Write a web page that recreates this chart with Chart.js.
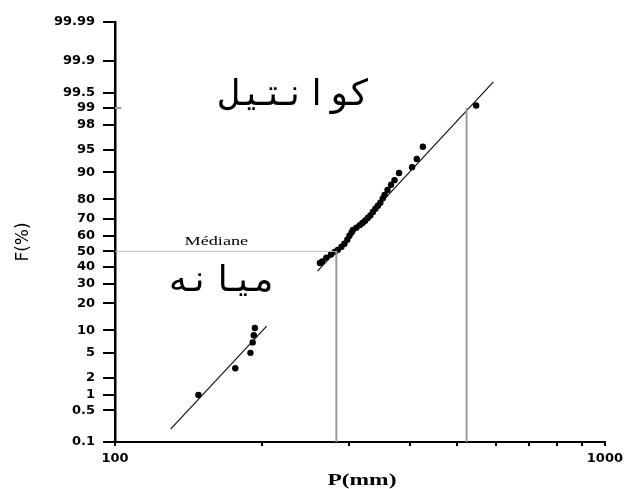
<!DOCTYPE html>
<html>
<head>
<meta charset="utf-8">
<script src="https://cdn.jsdelivr.net/npm/chart.js@4"></script>
<style>
  body { margin: 0; background: #fff; }
  canvas { display: block; }
</style>
</head>
<body>
<canvas id="probChart" width="628" height="489"></canvas>
<script>
// data: P in mm, F in %
const upperP = [262, 265, 270, 276, 281, 285, 290, 294, 298, 301, 304, 306, 311, 316, 320, 324, 328, 332, 336, 340, 344, 348, 352, 355, 360, 366, 372, 380, 404, 413, 425, 546];
const upperF = [42.5, 43.5, 46, 48, 49.6, 51, 53, 55, 57.5, 60, 62, 63.6, 65, 66.5, 67.7, 69, 70.6, 72, 73.9, 75.5, 77, 78.5, 80.5, 82, 84, 86, 87.6, 89.8, 91.4, 93.3, 95.5, 99.1];
const lowerP = [148, 176, 189, 191, 192, 193];
const lowerF = [1, 2.9, 5, 7, 8.7, 10.7];

const fitLowerP = [130, 204];
const fitLowerF = [0.2, 11.3];
const fitUpperP = [259, 592];
const fitUpperF = [37.5, 99.7];

const medianP = 283;
const quantileP = 522;

const yTicks = [0.1, 0.5, 1, 2, 5, 10, 20, 30, 40, 50, 60, 70, 80, 90, 95, 98, 99, 99.5, 99.9, 99.99];
const yLabels = ['0.1', '0.5', '1', '2', '5', '10', '20', '30', '40', '50', '60', '70', '80', '90', '95', '98', '99', '99.5', '99.9', '99.99'];
const xTicks = [100, 200, 300, 400, 500, 600, 700, 800, 900, 1000];
const xLabels = ['100', '', '', '', '', '', '', '', '', '1000'];

// inverse normal cdf (Acklam), used for the probability axis
function probit(p) {
  const a = [-39.69683028665376, 220.9460984245205, -275.9285104469687, 138.357751867269, -30.66479806614716, 2.506628277459239];
  const b = [-54.47609879822406, 161.5858368580409, -155.6989798598866, 66.80131188771972, -13.28068155288572];
  const c = [-0.007784894002430293, -0.3223964580411365, -2.400758277161838, -2.549732539343734, 4.374664141464968, 2.938163982698783];
  const d = [0.007784695709041462, 0.3224671290700398, 2.445134137142996, 3.754408661907416];
  let q, r;
  if (p < 0.02425) {
    q = Math.sqrt(-2 * Math.log(p));
    return (((((c[0]*q+c[1])*q+c[2])*q+c[3])*q+c[4])*q+c[5]) / ((((d[0]*q+d[1])*q+d[2])*q+d[3])*q+1);
  }
  if (p <= 1 - 0.02425) {
    q = p - 0.5; r = q * q;
    return (((((a[0]*r+a[1])*r+a[2])*r+a[3])*r+a[4])*r+a[5])*q / (((((b[0]*r+b[1])*r+b[2])*r+b[3])*r+b[4])*r+1);
  }
  q = Math.sqrt(-2 * Math.log(1 - p));
  return -(((((c[0]*q+c[1])*q+c[2])*q+c[3])*q+c[4])*q+c[5]) / ((((d[0]*q+d[1])*q+d[2])*q+d[3])*q+1);
}
const z = f => probit(f / 100);
const pts = (ps, fs) => ps.map((p, i) => ({ x: p, y: z(fs[i]) }));

const refStyle = { borderColor: '#9a9a9a', borderWidth: 2, pointRadius: 0, showLine: true, fill: false };

const textPlugin = {
  id: 'texts',
  afterDraw(chart) {
    const ctx = chart.ctx;
    const xs = chart.scales.x, ys = chart.scales.y;
    ctx.save();
    ctx.fillStyle = '#000';
    ctx.textAlign = 'center';

    ctx.font = '36px "DejaVu Sans Mono", "DejaVu Sans"';
    ctx.fillText('کوانتیل', xs.getPixelForValue(233), ys.getPixelForValue(z(99)) - 3);
    ctx.fillText('میانه', xs.getPixelForValue(165), ys.getPixelForValue(z(26)));

    ctx.save();
    ctx.translate(xs.getPixelForValue(161), ys.getPixelForValue(z(50)) - 6);
    ctx.scale(1.35, 1);
    ctx.font = '13.5px "Liberation Serif"';
    ctx.fillText('Médiane', 0, 0);
    ctx.restore();

    ctx.save();
    ctx.translate((xs.left + xs.right) / 2 + 2, chart.height - 4);
    ctx.scale(1.38, 1);
    ctx.font = 'bold 17px "Liberation Serif"';
    ctx.fillText('P(mm)', 0, 0);
    ctx.restore();

    ctx.save();
    ctx.translate(28, (ys.top + ys.bottom) / 2 + 10);
    ctx.rotate(-Math.PI / 2);
    ctx.font = '17px "DejaVu Sans"';
    ctx.fillText('F(%)', 0, 0);
    ctx.restore();

    ctx.restore();
  }
};

new Chart(document.getElementById('probChart'), {
  type: 'scatter',
  data: {
    datasets: [
      Object.assign({ data: pts([100, 284], [50, 50]) }, refStyle, { borderColor: '#b8b8b8', borderWidth: 1 }),
      Object.assign({ data: pts([100, 103], [99, 99]) }, refStyle),
      Object.assign({ data: pts([medianP, medianP], [50, 0.1]) }, refStyle),
      Object.assign({ data: pts([quantileP, quantileP], [99, 0.1]) }, refStyle),
      { data: pts(fitLowerP, fitLowerF), showLine: true, borderColor: '#111', borderWidth: 1.2, pointRadius: 0 },
      { data: pts(fitUpperP, fitUpperF), showLine: true, borderColor: '#111', borderWidth: 1.2, pointRadius: 0 },
      { data: pts(lowerP, lowerF), pointRadius: 3.2, pointBackgroundColor: '#000', pointBorderWidth: 0 },
      { data: pts(upperP, upperF), pointRadius: 3.2, pointBackgroundColor: '#000', pointBorderWidth: 0 }
    ]
  },
  options: {
    responsive: false,
    animation: false,
    events: [],
    layout: { padding: { left: 0, right: 23, top: 22, bottom: 0 } },
    plugins: { legend: { display: false }, tooltip: { enabled: false } },
    scales: {
      x: {
        type: 'logarithmic',
        min: 100,
        max: 1000,
        afterBuildTicks: s => { s.ticks = xTicks.map(v => ({ value: v })); },
        afterFit: s => { s.height = 47; },
        border: { color: '#000', width: 2 },
        grid: { drawOnChartArea: false, color: '#000', lineWidth: 2, tickLength: 4 },
        ticks: {
          autoSkip: false, maxRotation: 0, padding: 5, color: '#000',
          font: { family: 'DejaVu Sans', weight: 'bold', size: 13 },
          callback: (v, i) => xLabels[i]
        }
      },
      y: {
        type: 'linear',
        min: z(0.1),
        max: z(99.99),
        afterBuildTicks: s => { s.ticks = yTicks.map(v => ({ value: z(v) })); },
        afterFit: s => { s.width = 115; },
        border: { color: '#000', width: 2.5 },
        grid: { drawOnChartArea: false, color: '#000', lineWidth: 2, tickLength: 12 },
        ticks: {
          autoSkip: false, padding: 8, color: '#000',
          font: { family: 'DejaVu Sans', weight: 'bold', size: 13 },
          callback: (v, i) => yLabels[i]
        }
      }
    }
  },
  plugins: [textPlugin]
});
</script>
</body>
</html>
